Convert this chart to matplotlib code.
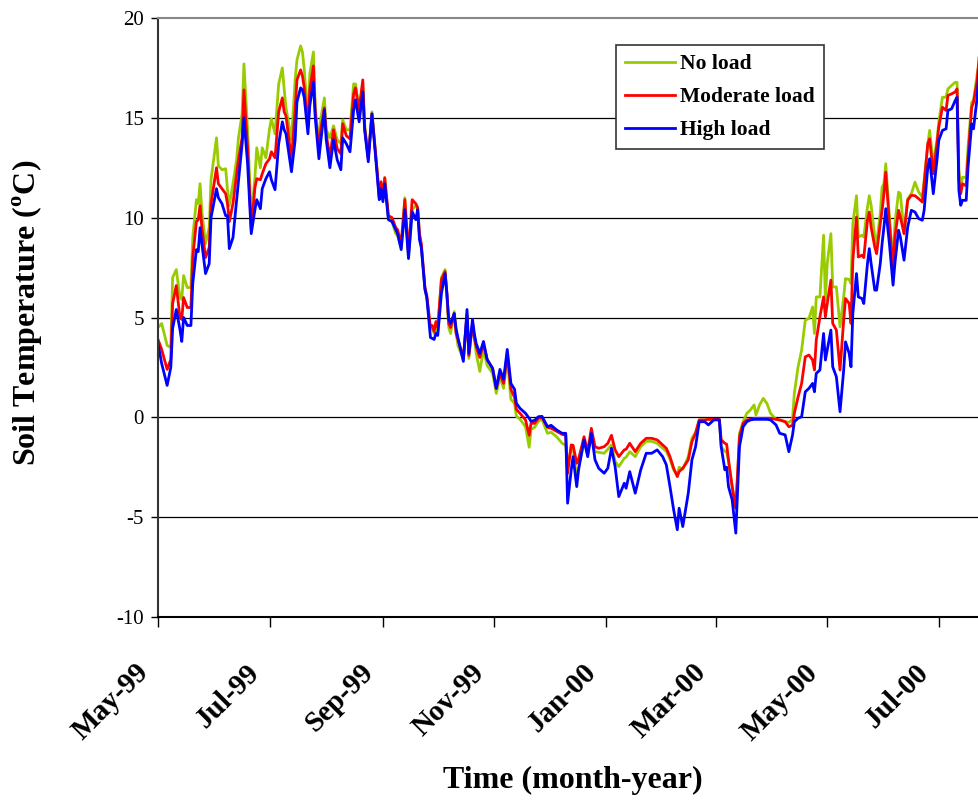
import matplotlib
matplotlib.use("Agg")
import matplotlib.pyplot as plt
import matplotlib.transforms as mtransforms
import pandas as pd

# days counted from 1 May 1999
start = "1999-05-01"
days = [0, 2, 5, 7, 8, 10, 12, 13, 14, 16, 18, 19, 21, 22, 23, 24, 26, 28, 29,
        32, 33, 35, 37, 38, 39, 41, 43, 44, 46, 47, 49, 51, 53, 54, 56, 57, 59,
        61, 62, 64, 66, 68, 69, 70, 73, 75, 76, 78, 79, 80, 82, 83, 85, 86, 88,
        89, 91, 92, 94, 96, 98, 100, 101, 103, 105, 107, 108, 110, 112, 113,
        115, 117, 120, 121, 122, 123, 124, 126, 128, 130, 131, 133, 135, 137,
        139, 141, 142, 143, 144, 146, 147, 149, 150, 151, 152, 153, 155, 157,
        158, 159, 160, 162, 163, 164, 167, 169, 170, 172, 173, 174, 176, 178,
        180, 183, 185, 187, 189, 191, 193, 195, 196, 198, 201, 203, 204, 206,
        208, 210, 213, 215, 218, 221, 223, 224, 226, 227, 229, 230, 233, 235,
        237, 239, 241, 244, 246, 248, 250, 252, 255, 256, 258, 261, 264, 267,
        270, 273, 276, 278, 280, 282, 284, 285, 287, 290, 292, 294, 296, 299,
        301, 304, 307, 308, 310, 311, 312, 314, 316, 317, 318, 320, 322, 324,
        326, 327, 329, 331, 333, 335, 338, 340, 343, 345, 347, 348, 350, 352,
        354, 356, 358, 359, 360, 362, 364, 365, 366, 368, 369, 371, 373, 375,
        376, 378, 379, 380, 382, 383, 385, 386, 388, 389, 390, 392, 393, 395,
        396, 397, 398, 400, 402, 403, 405, 406, 408, 410, 412, 414, 416, 418,
        419, 421, 422, 424, 426, 427, 429, 431, 432, 434, 436, 437, 438, 439,
        440, 442, 443, 445, 446, 448, 449]

no_load = [4.5, 4.7, 3.6, 3.5, 7.0, 7.4, 6.0, 5.9, 7.1, 6.5, 6.5, 9.0, 10.9, 10.7,
           11.7, 10.3, 8.7, 9.5, 11.9, 14.0, 12.6, 12.4, 12.45, 11.4, 10.6, 11.7,
           12.9, 14.0, 15.2, 17.7, 14.4, 10.0, 12.0, 13.5, 12.5, 13.5, 13.0,
           14.45, 14.95, 14.2, 16.7, 17.5, 16.45, 15.5, 13.9, 16.9, 17.9, 18.6,
           18.3, 17.4, 14.9, 17.2, 18.3, 15.5, 13.7, 14.95, 16.0, 14.4, 14.0,
           14.6, 13.9, 13.7, 14.9, 14.4, 14.4, 16.7, 16.7, 15.45, 16.7, 14.7,
           13.0, 15.3, 12.2, 11.0, 11.7, 10.95, 12.0, 10.0, 9.8, 9.2, 9.1, 8.5,
           11.0, 8.0, 10.4, 10.6, 10.5, 9.1, 8.6, 6.4, 6.0, 4.4, 4.5, 4.2, 4.7,
           4.3, 7.0, 7.4, 6.0, 4.5, 4.2, 5.3, 4.3, 3.6, 2.9, 5.2, 2.95, 4.7, 4.0,
           3.2, 2.3, 3.4, 2.6, 2.2, 1.2, 2.0, 1.45, 3.0, 0.9, 0.7, 0.05, -0.1,
           -0.47, -1.5, -0.6, -0.5, -0.2, -0.1, -0.8, -0.75, -0.97, -1.3, -1.4,
           -2.5, -1.47, -1.5, -3.1, -2.5, -1.2, -1.9, -0.8, -1.72, -1.75, -1.8,
           -1.6, -1.38, -2.2, -2.47, -2.05, -2.0, -1.72, -1.97, -1.47, -1.2, -1.2,
           -1.3, -1.55, -1.7, -2.1, -2.63, -2.88, -2.5, -2.6, -1.97, -1.05, -0.75,
           -0.13, -0.13, -0.1, -0.1, -0.1, -1.47, -1.7, -1.75, -2.2, -3.47, -4.55,
           -2.9, -0.8, -0.22, 0.2, 0.37, 0.62, 0.12, 0.62, 0.95, 0.7, 0.2, -0.1,
           -0.13, -0.22, -0.25, -0.1, 1.2, 2.5, 3.37, 4.87, 4.95, 5.53, 4.2, 6.03,
           6.03, 9.12, 5.87, 7.7, 9.2, 6.53, 6.53, 4.53, 6.03, 6.95, 6.9, 6.7, 9.7,
           11.1, 9.03, 9.12, 9.03, 10.53, 11.1, 10.62, 9.03, 8.7, 10.2, 11.53,
           11.7, 12.7, 10.03, 7.7, 9.7, 11.28, 11.2, 9.2, 10.95, 11.2, 11.78,
           11.28, 11.03, 11.87, 13.7, 14.37, 12.7, 13.87, 14.78, 16.03, 16.03,
           16.45, 16.62, 16.78, 16.78, 12.37, 11.53, 12.03, 12.0, 13.53, 15.78,
           15.87, 17.2, 17.7]

moderate_load = [3.9, 3.4, 2.4, 2.9, 5.7, 6.6, 5.0, 4.9, 6.0, 5.5, 5.5, 8.0, 9.8,
                 9.9, 10.6, 9.5, 8.0, 8.5, 10.7, 12.5, 11.7, 11.45, 11.2, 10.7,
                 9.8, 10.7, 12.2, 12.9, 14.0, 16.4, 13.5, 9.4, 11.5, 11.95, 11.9,
                 12.2, 12.7, 12.95, 13.3, 13.0, 15.3, 16.0, 15.3, 15.1, 12.9,
                 15.4, 16.9, 17.4, 17.1, 16.5, 14.5, 16.4, 17.6, 15.3, 13.4, 14.4,
                 15.5, 14.2, 13.0, 14.4, 13.45, 13.2, 14.7, 14.1, 13.95, 16.2,
                 16.5, 15.4, 16.9, 14.5, 12.95, 15.2, 12.2, 11.0, 11.8, 10.95,
                 12.0, 10.1, 10.0, 9.5, 9.4, 8.7, 10.9, 8.2, 10.9, 10.7, 10.5,
                 9.2, 8.7, 6.5, 6.1, 4.5, 4.6, 4.3, 4.8, 4.5, 6.9, 7.3, 6.2, 4.7,
                 4.5, 5.2, 4.2, 3.9, 3.0, 5.1, 3.1, 4.7, 4.0, 3.55, 3.0, 3.7, 2.9,
                 2.45, 1.45, 2.2, 1.7, 3.2, 1.4, 1.0, 0.4, 0.2, -0.13, -0.9, -0.3,
                 -0.3, -0.05, 0.0, -0.5, -0.55, -0.7, -0.85, -0.9, -2.8, -1.38,
                 -1.4, -2.3, -2.1, -0.97, -1.72, -0.55, -1.47, -1.55, -1.47, -1.3,
                 -0.9, -1.63, -1.97, -1.63, -1.6, -1.3, -1.72, -1.3, -1.05, -1.05,
                 -1.13, -1.38, -1.55, -1.97, -2.55, -2.97, -2.72, -2.55, -2.13,
                 -1.22, -0.8, -0.13, -0.13, -0.1, -0.1, -0.1, -1.13, -1.3, -1.35,
                 -2.13, -3.47, -4.55, -2.8, -0.97, -0.3, -0.13, -0.1, -0.05,
                 -0.05, -0.05, -0.05, -0.05, -0.05, -0.1, -0.13, -0.22, -0.47,
                 -0.4, 0.2, 1.0, 1.7, 3.03, 3.12, 2.87, 2.37, 3.87, 5.03, 6.03,
                 5.03, 5.7, 6.87, 4.7, 4.37, 2.37, 4.87, 5.95, 5.7, 4.7, 7.87,
                 10.03, 8.03, 8.12, 8.0, 9.87, 10.28, 9.53, 8.53, 8.2, 9.7, 10.37,
                 11.2, 12.28, 9.7, 7.45, 9.03, 10.37, 10.03, 9.2, 10.87, 11.12,
                 11.1, 10.95, 10.78, 11.7, 13.7, 13.95, 12.2, 13.7, 14.53, 15.53,
                 15.37, 16.12, 16.2, 16.3, 16.45, 11.87, 11.2, 11.7, 11.6, 13.03,
                 15.53, 15.78, 16.87, 18.0]

high_load = [3.7, 2.7, 1.6, 2.5, 4.45, 5.4, 4.4, 3.8, 5.0, 4.6, 4.6, 6.7, 8.4,
             8.3, 9.5, 8.7, 7.2, 7.7, 10.0, 11.45, 11.0, 10.7, 10.1, 10.1, 8.45,
             9.0, 10.9, 11.9, 13.7, 15.0, 12.7, 9.2, 10.4, 10.9, 10.45, 11.45,
             11.95, 12.3, 11.9, 11.4, 13.7, 14.8, 14.4, 14.2, 12.3, 13.9, 15.8,
             16.5, 16.4, 16.0, 14.2, 15.6, 16.8, 15.0, 12.95, 13.8, 15.4, 13.9,
             12.5, 13.9, 12.9, 12.4, 14.0, 13.7, 13.3, 15.4, 15.9, 14.8, 16.3,
             14.4, 12.8, 15.2, 12.0, 10.9, 11.45, 10.8, 11.7, 9.9, 9.8, 9.4, 9.2,
             8.4, 10.4, 7.95, 10.3, 9.9, 10.4, 8.9, 8.5, 6.4, 6.0, 4.0, 3.95,
             3.9, 4.2, 4.1, 6.2, 7.2, 6.2, 4.9, 4.7, 5.2, 4.45, 4.0, 2.8, 5.4,
             3.2, 4.9, 4.2, 3.7, 3.2, 3.8, 2.9, 2.45, 1.45, 2.4, 1.9, 3.4, 1.7,
             1.4, 0.7, 0.45, 0.2, -0.05, -0.2, -0.15, 0.03, 0.05, -0.47, -0.4,
             -0.63, -0.8, -0.8, -4.3, -2.63, -1.97, -3.47, -2.63, -1.13, -1.97,
             -0.8, -2.13, -2.55, -2.8, -2.55, -1.55, -2.47, -3.97, -3.3, -3.55,
             -2.72, -3.8, -2.63, -1.8, -1.8, -1.63, -1.97, -2.38, -3.47, -4.63,
             -5.63, -4.55, -5.47, -3.8, -2.13, -1.47, -0.22, -0.22, -0.38, -0.13,
             -0.13, -1.47, -2.63, -2.5, -3.47, -4.13, -5.8, -3.63, -1.47, -0.47,
             -0.22, -0.13, -0.1, -0.1, -0.1, -0.1, -0.1, -0.13, -0.38, -0.8,
             -0.88, -1.72, -0.9, -0.22, -0.05, 0.03, 1.28, 1.45, 1.7, 1.28, 2.2,
             2.37, 4.2, 2.87, 3.37, 4.37, 2.53, 2.03, 0.28, 2.37, 3.78, 3.2, 2.53,
             5.2, 7.2, 6.03, 5.95, 5.7, 7.7, 8.45, 7.7, 6.37, 6.37, 7.7, 8.7,
             9.53, 10.45, 8.7, 6.62, 7.7, 9.37, 9.03, 7.87, 9.53, 10.37, 10.28,
             9.95, 9.87, 10.37, 12.53, 12.95, 11.2, 12.87, 13.87, 14.37, 14.45,
             15.37, 15.45, 15.87, 16.03, 11.37, 10.62, 10.87, 10.87, 12.53, 14.7,
             14.45, 16.03, 17.4]

tick_dates = ["1999-05-01", "1999-07-01", "1999-09-01", "1999-11-01",
              "2000-01-01", "2000-03-01", "2000-05-01", "2000-07-01"]
tick_labels = ["May-99", "Jul-99", "Sep-99", "Nov-99",
               "Jan-00", "Mar-00", "May-00", "Jul-00"]
end_day = 449

plt.rcParams.update({
    "font.family": "Liberation Serif",
    "mathtext.fontset": "custom",
    "mathtext.rm": "Liberation Serif",
    "mathtext.bf": "Liberation Serif:bold",
    "axes.unicode_minus": False,
})

t0 = pd.Timestamp(start)
dates = t0 + pd.to_timedelta(days, unit="D")

fig = plt.figure(figsize=(9.79, 8.02), dpi=100)
ax = fig.add_axes([158 / 979, 1 - 617 / 802, 821 / 979, 599 / 802])

ax.plot(dates, no_load, color="#99CC00", lw=2.0, label="No load")
ax.plot(dates, moderate_load, color="#FF0000", lw=2.0, label="Moderate load")
ax.plot(dates, high_load, color="#0000FF", lw=2.0, label="High load")

ax.set_xlim(t0, t0 + pd.Timedelta(days=end_day))
ax.set_ylim(-10, 20)
ax.set_yticks([-10, -5, 0, 5, 10, 15, 20])
ax.set_xticks(pd.to_datetime(tick_dates))
ax.set_xticklabels(tick_labels, rotation=45, ha="right", va="center",
                   rotation_mode="anchor", fontsize=21, fontweight="bold")
ax.tick_params(axis="y", labelsize=15, length=5, width=1, pad=5)
ax.tick_params(axis="x", length=7, width=1, pad=30)

# shift the slanted month labels a little to the left, as in the original
shift = mtransforms.ScaledTranslation(-14 / 100, 0, fig.dpi_scale_trans)
for lab in ax.get_xticklabels():
    lab.set_transform(lab.get_transform() + shift)

for yv in [-5, 0, 5, 10, 15]:
    ax.axhline(yv, color="black", lw=0.9, zorder=0)

ax.spines["right"].set_visible(False)
ax.spines["top"].set_color("#888888")
ax.spines["top"].set_linewidth(1.5)
ax.spines["left"].set_color("#333333")
ax.spines["left"].set_linewidth(1.5)
ax.spines["bottom"].set_linewidth(1.5)

ax.set_ylabel(r"Soil Temperature ($^{\mathbf{o}}$C)", fontsize=23, fontweight="bold")
ax.yaxis.set_label_coords(-0.1376, 0.508)
ax.set_xlabel("Time (month-year)", fontsize=23, fontweight="bold")
ax.xaxis.set_label_coords(0.505, -0.249)

leg = ax.legend(loc="upper left", bbox_to_anchor=(0.558, 0.955), borderaxespad=0,
                fancybox=False, framealpha=1, edgecolor="#333333",
                prop={"weight": "bold", "size": 15.5}, handlelength=2.3,
                labelspacing=0.6, borderpad=0.42, handletextpad=0.25)
leg.get_frame().set_linewidth(1.2)

fig.savefig("out.png", dpi=100)
